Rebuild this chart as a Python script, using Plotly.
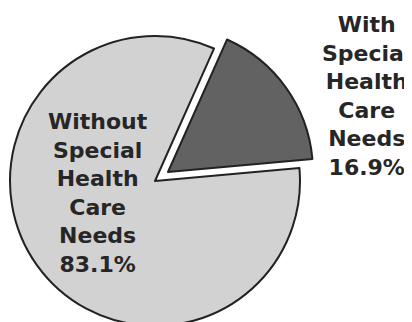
import plotly.graph_objects as go

# Data
labels = ["With Special Health Care Needs", "Without Special Health Care Needs"]
values = [16.9, 83.1]

# Styles
fill_colors = ["#626262", "#d2d2d2"]
line_color = "#222222"
text_color = "#262626"
W, H = 412, 322
OFF = 8  # page body margin offset (screen = figure + OFF)

def dom_x(a, b):
    return [(a - OFF) / W, (b - OFF) / W]

def dom_y(top, bottom):
    # screen top/bottom -> paper domain
    return [(H - (bottom - OFF)) / H, (H - (top - OFF)) / H]

fig = go.Figure()

# Light (unpulled) slice: centre (155,181) r=145 on screen
fig.add_trace(go.Pie(
    labels=labels, values=values, sort=False, direction="clockwise", rotation=24,
    marker=dict(colors=["rgba(0,0,0,0)", fill_colors[1]],
                line=dict(color=line_color, width=[0, 2])),
    textinfo="none", hoverinfo="label+percent", showlegend=False,
    domain=dict(x=dom_x(10, 300), y=dom_y(36, 326)),
))

# Dark (pulled-out) slice
fig.add_trace(go.Pie(
    labels=labels, values=values, sort=False, direction="clockwise", rotation=24,
    marker=dict(colors=[fill_colors[0], "rgba(0,0,0,0)"],
                line=dict(color=line_color, width=[2, 0])),
    textinfo="none", hoverinfo="label+percent", showlegend=False,
    domain=dict(x=dom_x(23, 313), y=dom_y(27, 317)),
))

def block(label, value):
    return "<br>".join(f"<b>{w}</b>" for w in label.split()) + f"<br><b>{value}%</b>"

label_pos = [(366, 96), (98, 193)]  # screen centres of text blocks
for lab, val, (sx, sy) in zip(labels, values, label_pos):
    fig.add_annotation(
        x=(sx - OFF) / W, y=(H - (sy - OFF)) / H, xref="paper", yref="paper",
        text=block(lab, val),
        showarrow=False, xanchor="center", yanchor="middle", align="center",
        font=dict(family="DejaVu Sans", size=22, color=text_color),
    )

fig.update_layout(
    width=W, height=H, margin=dict(l=0, r=0, t=0, b=0),
    paper_bgcolor="white", plot_bgcolor="white",
)

fig.write_html("out.html")
